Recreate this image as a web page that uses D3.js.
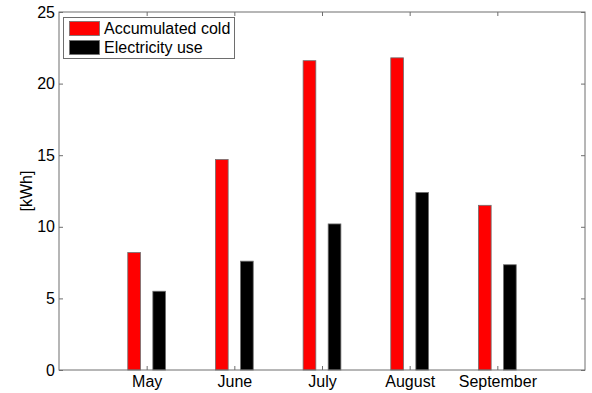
<!DOCTYPE html>
<html>
<head>
<meta charset="utf-8">
<script src="https://cdn.jsdelivr.net/npm/d3@7"></script>
<style>
  html, body { margin: 0; padding: 0; background: #fff; }
  svg text { font-family: "Liberation Sans", Arial, sans-serif; fill: #000; }
</style>
</head>
<body>
<svg id="chart" width="592" height="393"></svg>
<script>
// Monthly totals in kWh
const months = ["May", "June", "July", "August", "September"];
const accumulatedCold = [8.2, 14.7, 21.6, 21.8, 11.5];
const electricityUse = [5.5, 7.6, 10.2, 12.4, 7.35];
const yTicks = [0, 5, 10, 15, 20, 25];
const seriesNames = ["Accumulated cold", "Electricity use"];
const seriesColors = ["#ff0000", "#000000"];

const svg = d3.select("#chart");
const margin = { left: 59, right: 7, top: 12, bottom: 23 };
const W = 592, H = 393;
const x0 = margin.left, x1 = W - margin.right;
const y0 = H - margin.bottom, y1 = margin.top;
const fontSize = 16;

// Category positions 1..5 on a 0..6 axis
const x = d3.scaleLinear().domain([0, months.length + 1]).range([x0, x1]);
const y = d3.scaleLinear().domain([0, 25]).range([y0, y1]);

const groupOffset = 0.143, barW = 0.145;
const series = [accumulatedCold, electricityUse];

const axisColor = "#6e6e6e";
const tickLen = 4;

// Bars
series.forEach((vals, si) => {
  svg.append("g").selectAll("rect").data(vals).join("rect")
    .attr("x", (d, i) => x(i + 1 + (si === 0 ? -groupOffset : groupOffset) - barW / 2))
    .attr("width", x(barW) - x(0))
    .attr("y", d => y(d))
    .attr("height", d => y(0) - y(d))
    .attr("fill", seriesColors[si])
    .attr("stroke", "#707070")
    .attr("stroke-width", 0.8);
});

// Box
svg.append("rect")
  .attr("x", x0).attr("y", y1)
  .attr("width", x1 - x0).attr("height", y0 - y1)
  .attr("fill", "none").attr("stroke", axisColor).attr("stroke-width", 1);

// Y axis left with labels, right with tick marks only
const yAxisL = d3.axisLeft(y).tickValues(yTicks).tickSizeInner(-tickLen).tickSizeOuter(0);
const gyl = svg.append("g").attr("transform", `translate(${x0},0)`).call(yAxisL);
gyl.select(".domain").remove();
gyl.selectAll("line").attr("stroke", axisColor);
gyl.selectAll("text").attr("font-size", fontSize).attr("x", -4);

const yAxisR = d3.axisRight(y).tickValues(yTicks).tickSizeInner(-tickLen).tickSizeOuter(0).tickFormat("");
const gyr = svg.append("g").attr("transform", `translate(${x1},0)`).call(yAxisR);
gyr.select(".domain").remove();
gyr.selectAll("line").attr("stroke", axisColor);

// X axis bottom with month labels, top with tick marks only
const xTicks = months.map((m, i) => i + 1);
const xAxisB = d3.axisBottom(x).tickValues(xTicks).tickSizeInner(-tickLen).tickSizeOuter(0)
  .tickFormat((d, i) => months[i]);
const gxb = svg.append("g").attr("transform", `translate(0,${y0})`).call(xAxisB);
gxb.select(".domain").remove();
gxb.selectAll("line").attr("stroke", axisColor);
gxb.selectAll("text").attr("font-size", fontSize).attr("y", 6).attr("dy", "0.71em");

const xAxisT = d3.axisTop(x).tickValues(xTicks).tickSizeInner(-tickLen).tickSizeOuter(0).tickFormat("");
const gxt = svg.append("g").attr("transform", `translate(0,${y1})`).call(xAxisT);
gxt.select(".domain").remove();
gxt.selectAll("line").attr("stroke", axisColor);

// Y axis title
svg.append("text")
  .attr("transform", `translate(32,${(y0 + y1) / 2}) rotate(-90)`)
  .attr("text-anchor", "middle")
  .attr("font-size", fontSize)
  .text("[kWh]");

// Legend
const leg = svg.append("g");
leg.append("rect")
  .attr("x", 63.5).attr("y", 17.5).attr("width", 171).attr("height", 41)
  .attr("fill", "#fff").attr("stroke", axisColor).attr("stroke-width", 1);
seriesNames.forEach((name, i) => {
  leg.append("rect")
    .attr("x", 69.5).attr("y", 21.5 + i * 19).attr("width", 30).attr("height", 14)
    .attr("fill", seriesColors[i]).attr("stroke", "#707070").attr("stroke-width", 0.8);
  leg.append("text")
    .attr("x", 104).attr("y", 34 + i * 19)
    .attr("font-size", fontSize)
    .text(name);
});
</script>
</body>
</html>
